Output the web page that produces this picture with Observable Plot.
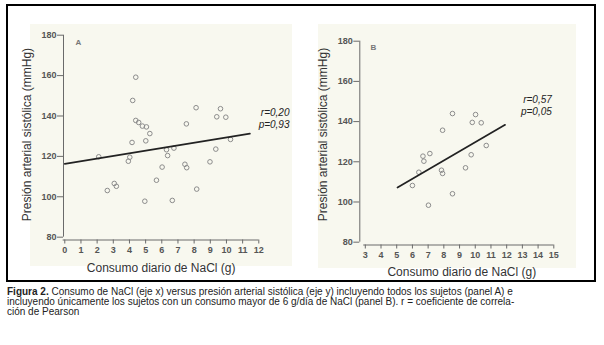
<!DOCTYPE html>
<html>
<head>
<meta charset="utf-8">
<script src="https://cdn.jsdelivr.net/npm/d3@7"></script>
<script src="https://cdn.jsdelivr.net/npm/@observablehq/plot@0.6"></script>
<style>
  html, body { margin: 0; padding: 0; background: #fff; }
  body { width: 604px; height: 345px; position: relative; overflow: hidden; font-family: "Liberation Sans", Arial, sans-serif; }
  .frame { position: absolute; left: 6px; top: 4px; width: 590px; height: 278px; border: 2px solid #000; box-sizing: border-box; }
  .tint { position: absolute; background: #f8f8ef; }
  .panel { position: absolute; top: 0; }
  .caption { position: absolute; left: 7px; top: 287px; font-size: 10px; line-height: 10px; color: #222; white-space: nowrap; }
</style>
</head>
<body>
<div class="tint" style="left:30px;top:24px;width:262px;height:242px"></div>
<div class="tint" style="left:318px;top:24px;width:258px;height:244px"></div>
<div class="frame"></div>
<div id="a" class="panel" style="left:0px"></div>
<div id="b" class="panel" style="left:300px"></div>
<div class="caption">
  <div><b>Figura 2.</b> Consumo de NaCl (eje x) versus presión arterial sistólica (eje y) incluyendo todos los sujetos (panel A) e</div>
  <div>incluyendo únicamente los sujetos con un consumo mayor de 6 g/día de NaCl (panel B). r = coeficiente de correla-</div>
  <div>ción de Pearson</div>
</div>
<script>
// ---- Data: panel A (all subjects) ----
const naclA = [4.39, 4.2, 4.39, 4.57, 4.8, 5.05, 5.26, 4.16, 5.01, 2.1, 4.02, 3.93, 6.29, 6.36, 6.75, 6.02, 5.67, 3.06, 3.19, 2.63, 4.95, 6.65, 7.52, 7.43, 7.54, 8.12, 8.16, 8.98, 9.34, 9.4, 9.63, 9.96, 10.25];
const pasA  = [159.2, 147.7, 137.8, 136.8, 135.0, 134.6, 131.3, 126.9, 127.7, 119.8, 119.6, 117.6, 123.3, 120.4, 124.1, 114.7, 108.2, 106.6, 105.2, 103.1, 97.8, 98.2, 136.1, 116.1, 114.4, 144.1, 103.8, 117.3, 123.6, 139.6, 143.6, 139.4, 128.4];
const fitA_x = [0, 11.45];
const fitA_y = [116.3, 131.3];

// ---- Data: panel B (consumption > 6 g/day) ----
const naclB = [8.55, 10.02, 9.81, 10.38, 7.92, 10.7, 9.74, 7.11, 6.67, 6.73, 9.38, 7.85, 7.92, 6.41, 6.0, 8.55, 7.02];
const pasB  = [144.0, 143.5, 139.6, 139.4, 135.7, 128.1, 123.5, 124.1, 122.8, 120.3, 117.0, 115.8, 114.2, 114.8, 108.2, 104.1, 98.4];
const fitB_x = [5.05, 11.9];
const fitB_y = [107.2, 138.4];

// ---- Axis ticks and labels ----
const yTicks = [80, 100, 120, 140, 160, 180];
const xTicksA = [0,1,2,3,4,5,6,7,8,9,10,11,12];
const xTicksB = [3,4,5,6,7,8,9,10,11,12,13,14,15];
const xLabel = "Consumo diario de NaCl (g)";
const yLabel = "Presión arterial sistólica (mmHg)";
const statsA = ["r=0,20", "p=0,93"];
const statsB = ["r=0,57", "p=0,05"];

const tickColor = "#6a6a6a";
const tickText = "#555";

function panel(o) {
  const pts = o.xs.map((x, i) => ({x, y: o.ys[i]}));
  const fit = o.fx.map((x, i) => ({x, y: o.fy[i]}));
  return Plot.plot({
    width: 300, height: 285,
    marginLeft: o.ml, marginRight: o.mr, marginTop: o.mt, marginBottom: o.mb,
    style: {background: "transparent", fontFamily: "'Liberation Sans', Arial, sans-serif", overflow: "visible"},
    x: {domain: o.xDomain, axis: null},
    y: {domain: o.yDomain, axis: null},
    marks: [
      // axis lines
      Plot.ruleX([o.xDomain[0]], {y1: 80, y2: 180, stroke: tickColor, strokeWidth: 1}),
      Plot.ruleY([o.yDomain[0]], {x1: o.xTicks[0] - 0.1, x2: o.xTicks[o.xTicks.length - 1], stroke: tickColor, strokeWidth: 1}),
      Plot.axisY({ticks: yTicks, tickSize: 6, tickPadding: 1, stroke: tickColor, fill: tickText, fontSize: 9, fontWeight: "bold", label: null}),
      Plot.axisX({ticks: o.xTicks, tickSize: 4, tickPadding: 3, stroke: tickColor, fill: tickText, fontSize: 9, fontWeight: "bold", label: null, tickFormat: d => String(d)}),
      // axis titles
      Plot.text([xLabel], {frameAnchor: "bottom", textAnchor: "middle", dx: o.xlDx, dy: o.xlDy, fontSize: 12, fill: "#333"}),
      Plot.text([yLabel], {frameAnchor: "left", textAnchor: "middle", dx: -36.3, dy: o.ylDy, rotate: -90, fontSize: 12, fill: "#333"}),
      // panel letter
      Plot.text([o.letter], {frameAnchor: "top-left", dx: o.letDx, dy: o.letDy, fontSize: 8, fontWeight: "bold", fill: "#777"}),
      // points and fit
      Plot.dot(pts, {x: "x", y: "y", r: 2.3, stroke: "#8c8c8c", strokeWidth: 1, fill: "none"}),
      Plot.line(fit, {x: "x", y: "y", stroke: "#222", strokeWidth: 1.7}),
      // stats
      Plot.text([o.stats[0]], {frameAnchor: "top-right", textAnchor: "end", dx: o.stDx, dy: o.stDy, fontSize: 10, fontStyle: "italic", fill: "#222"}),
      Plot.text([o.stats[1]], {frameAnchor: "top-right", textAnchor: "end", dx: o.stDx, dy: o.stDy + 12.5, fontSize: 10, fontStyle: "italic", fill: "#222"})
    ]
  });
}

document.getElementById("a").appendChild(panel({
  xs: naclA, ys: pasA, fx: fitA_x, fy: fitA_y, xTicks: xTicksA,
  xDomain: [-0.08, 12], yDomain: [78.6, 180],
  ml: 63, mr: 41.7, mt: 34.7, mb: 45.5,
  xlDx: 0, xlDy: 31.5, ylDy: -3,
  letter: "A", letDx: 12, letDy: 4.5,
  stats: statsA, stDx: 30.7, stDy: 73.5
}));

document.getElementById("b").appendChild(panel({
  xs: naclB, ys: pasB, fx: fitB_x, fy: fitB_y, xTicks: xTicksB,
  xDomain: [2.65, 15], yDomain: [78.6, 180],
  ml: 59.3, mr: 46.7, mt: 40.7, mb: 40.5,
  xlDx: 5, xlDy: 30.5, ylDy: -8.6,
  letter: "B", letDx: 10.7, letDy: 3.5,
  stats: statsB, stDx: -2, stDy: 54.5
}));
</script>
</body>
</html>
